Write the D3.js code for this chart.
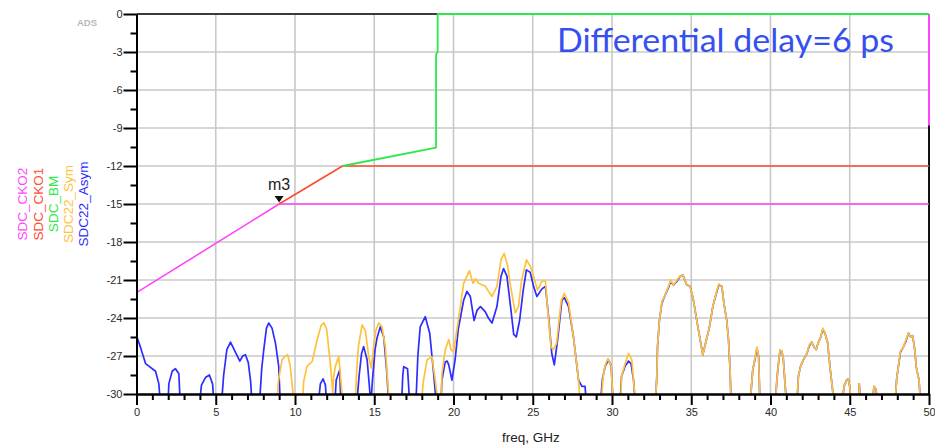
<!DOCTYPE html>
<html>
<head>
<meta charset="utf-8">
<script src="https://cdn.jsdelivr.net/npm/d3@7"></script>
<style>
  html, body { margin: 0; padding: 0; background: #fff; }
  svg { display: block; }
</style>
</head>
<body>
<svg id="chart" width="935" height="446"></svg>
<script>
// ---- axis ticks -----------------------------------------------------------
const freqTicks = [0, 5, 10, 15, 20, 25, 30, 35, 40, 45, 50];
const freqMinorTicks = [1,2,3,4,6,7,8,9,11,12,13,14,16,17,18,19,21,22,23,24,26,27,28,29,
                        31,32,33,34,36,37,38,39,41,42,43,44,46,47,48,49];
const dbTicks = [0, -3, -6, -9, -12, -15, -18, -21, -24, -27, -30];
const dbMinorTicks = [-1.5, -4.5, -7.5, -10.5, -13.5, -16.5, -19.5, -22.5, -25.5, -28.5];

// ---- legend (drawn as rotated text at the left) ----------------------------
const seriesNames  = ["SDC_CKO2", "SDC_CKO1", "SDC_BM", "SDC22_Sym", "SDC22_Asym"];
const seriesColors = ["#ff44ff", "#ff4a30", "#2ee84a", "#ffc23a", "#2d2dff"];

// ---- mask lines [freq GHz, dB] --------------------------------------------
const sdcCKO2 = [[0, -22], [9, -15], [50, -15]];
const sdcCKO2Edge = [[50, -8.8], [50, 0]];
const sdcCKO1 = [[9, -15], [13, -12], [50, -12]];
const sdcBM = [[13, -12], [18.9, -10.55], [18.9, -3.2], [19.0, -3.0], [19.0, 0], [50, 0]];

// ---- measured SDC22, symmetric routing [freq GHz, dB] ------------------------
const sdc22Sym = [
  [0,-31],[8.85,-31],[8.95,-29],[9.18,-27.3],[9.4,-27.0],[9.54,-26.9],[9.7,-27.8],[9.88,-30],[9.95,-31],
  [10.45,-31],[10.55,-29],[10.76,-27.8],[11.08,-27.45],[11.4,-25.7],[11.65,-24.6],[11.81,-24.37],[12.0,-24.9],
  [12.23,-27.6],[12.38,-29.9],[12.45,-28.5],[12.55,-27.8],[12.76,-27.05],[12.86,-28.4],[13.03,-31],
  [13.78,-31],[13.9,-28],[14.0,-26.26],[14.23,-24.55],[14.44,-25.0],[14.65,-27.05],[14.82,-27.97],[14.96,-26.26],
  [15.1,-25],[15.28,-24.4],[15.49,-24.7],[15.7,-26.3],[15.85,-29],[15.95,-31],
  [17.95,-31],[18.1,-29],[18.33,-27.3],[18.64,-27.05],[18.85,-28.9],[19.05,-31],
  [19.2,-31],[19.27,-28.4],[19.48,-26.5],[19.7,-25.7],[19.84,-26.5],[20.0,-26.7],[20.15,-25.5],[20.43,-23.1],
  [20.64,-21.26],[21.0,-20.26],[21.23,-21.26],[21.4,-20.9],[21.58,-21.26],[22.0,-21.5],[22.43,-22.3],[22.74,-21.5],
  [23.0,-19.4],[23.2,-18.9],[23.4,-19.8],[23.6,-21.5],[23.9,-23.6],[24.1,-23.1],[24.3,-21.0],[24.6,-19.4],
  [24.84,-19.9],[25.05,-20.7],[25.3,-21.8],[25.58,-21.1],[25.8,-21.1],[25.93,-23.1],[26.15,-26.26],[26.3,-26.5],
  [26.5,-26.0],[26.8,-22.6],[26.99,-22.05],[27.26,-22.8],[27.57,-25.5],[27.89,-28.9],[28.0,-31],
  [29.3,-31],[29.45,-28.5],[29.6,-27.6],[29.75,-27.2],[29.95,-27.8],[30.08,-31],
  [30.55,-31],[30.6,-28.6],[30.83,-27.6],[31.04,-26.8],[31.25,-27.3],[31.36,-28.9],[31.5,-31],
  [32.72,-31],[32.83,-28.6],[32.87,-26.26],[32.99,-24.2],[33.15,-22.7],[33.35,-22.2],[33.56,-21.5],[33.7,-21.0],
  [33.88,-21.4],[34.1,-21.0],[34.3,-20.7],[34.47,-20.6],[34.72,-21.4],[34.93,-21.5],[35.14,-22.6],[35.35,-24.2],
  [35.56,-25.7],[35.73,-26.9],[35.94,-25.8],[36.15,-24.7],[36.36,-23.1],[36.57,-22.05],[36.74,-21.3],[36.93,-21.5],
  [37.07,-22.9],[37.24,-24.2],[37.35,-25.7],[37.45,-28.1],[37.52,-31],
  [38.7,-31],[38.88,-28.1],[39.03,-27.1],[39.14,-26.3],[39.25,-27.0],[39.34,-31],
  [40.3,-31],[40.4,-28.9],[40.5,-27.6],[40.6,-26.5],[40.7,-26.6],[40.8,-27.1],[40.9,-28.9],[41.03,-31],
  [41.66,-31],[41.76,-28.6],[41.9,-27.8],[42.07,-27.3],[42.3,-26.8],[42.45,-26.1],[42.6,-25.9],[42.75,-26.3],
  [42.88,-26.5],[43.0,-26.0],[43.17,-25.5],[43.3,-24.8],[43.44,-25.2],[43.6,-25.9],[43.7,-27.2],[43.8,-28.4],
  [43.93,-29.8],[44.0,-31],
  [44.5,-31],[44.64,-29.4],[44.8,-28.9],[44.9,-28.8],[45.0,-29.4],[45.1,-31],
  [45.55,-31],[45.6,-29.2],[45.7,-31],
  [46.4,-31],[46.53,-29.4],[46.65,-29.6],[46.8,-31],
  [47.85,-31],[47.96,-28.8],[48.06,-27.9],[48.2,-26.6],[48.38,-26.3],[48.55,-25.7],[48.7,-25.2],[48.85,-25.5],
  [48.97,-25.4],[49.1,-26.5],[49.2,-27.9],[49.37,-28.9],[49.48,-31],[50,-31]
];

// ---- measured SDC22, asymmetric routing [freq GHz, dB] -----------------------
const sdc22Asym = [
  [0,-25.4],[0.25,-26.3],[0.57,-27.6],[0.78,-27.8],[1.2,-28.2],[1.41,-29.2],[1.52,-31],
  [1.98,-31],[2.04,-29.2],[2.25,-28.2],[2.46,-28.0],[2.67,-28.4],[2.77,-31],
  [3.95,-31],[4.1,-29.3],[4.35,-28.7],[4.6,-28.5],[4.8,-29.2],[4.9,-31],
  [5.35,-31],[5.5,-28.5],[5.7,-26.5],[5.93,-25.9],[6.2,-26.6],[6.52,-27.4],[6.7,-27.0],[6.87,-26.9],
  [7.05,-27.5],[7.2,-29],[7.3,-31],
  [7.75,-31],[7.9,-28],[8.03,-26.5],[8.2,-24.8],[8.34,-24.4],[8.55,-24.8],[8.77,-26.0],[8.97,-27.8],[9.08,-31],
  [11.45,-31],[11.6,-29.2],[11.77,-28.8],[11.92,-29.3],[12.0,-31],
  [12.5,-31],[12.6,-28.9],[12.82,-28.1],[12.9,-31],
  [13.88,-31],[14.05,-28.5],[14.2,-26.8],[14.33,-26.26],[14.55,-27.3],[14.72,-29.8],[14.78,-31],
  [14.88,-29],[15.05,-26.5],[15.17,-25.6],[15.38,-24.7],[15.6,-25.5],[15.8,-28.4],[15.92,-31],
  [16.72,-31],[16.8,-28.5],[16.86,-27.84],[17.1,-28],[17.25,-31],
  [17.62,-31],[17.75,-27],[17.9,-24.7],[18.22,-23.9],[18.5,-25.2],[18.75,-28.4],[18.93,-31],
  [19.2,-31],[19.27,-28.9],[19.48,-27.45],[19.6,-27.4],[19.7,-27.7],[19.9,-28.9],[20.1,-27.3],[20.3,-24.9],
  [20.64,-22.6],[20.85,-21.9],[21.06,-22.3],[21.3,-24.2],[21.48,-23.4],[21.7,-23.1],[22.0,-23.5],[22.2,-24.0],
  [22.43,-24.4],[22.74,-23.1],[23.0,-20.7],[23.16,-20.1],[23.37,-20.7],[23.6,-23.1],[23.8,-25.3],[23.96,-25.5],
  [24.17,-24.2],[24.4,-21.8],[24.6,-20.2],[24.84,-20.4],[25.05,-21.5],[25.26,-22.3],[25.58,-21.7],[25.8,-21.5],
  [26.0,-23.9],[26.2,-26.8],[26.36,-27.7],[26.57,-25.7],[26.84,-22.6],[26.99,-22.4],[27.26,-23.1],[27.57,-25.5],
  [27.89,-28.9],[28.1,-29.4],[28.3,-29.4],[28.4,-31],
  [29.25,-31],[29.4,-28.8],[29.57,-27.8],[29.78,-27.3],[29.95,-27.8],[30.08,-31],
  [30.5,-31],[30.6,-28.6],[30.83,-27.8],[30.94,-27.6],[31.04,-27.4],[31.2,-27.6],[31.36,-28.9],[31.48,-31],
  [32.72,-31],[32.83,-28.6],[32.87,-26.3],[32.99,-24.2],[33.15,-22.8],[33.35,-22.2],[33.56,-21.6],[33.7,-21.1],
  [33.88,-21.4],[34.1,-21.1],[34.3,-20.7],[34.47,-20.6],[34.72,-21.4],[34.93,-21.5],[35.14,-22.6],[35.35,-24.2],
  [35.56,-25.7],[35.73,-26.9],[35.94,-25.8],[36.15,-24.7],[36.36,-23.1],[36.57,-22.1],[36.74,-21.4],[36.93,-21.5],
  [37.07,-22.9],[37.24,-24.2],[37.35,-25.7],[37.45,-28.1],[37.52,-31],
  [38.7,-31],[38.88,-28.1],[39.03,-27.2],[39.14,-26.4],[39.25,-27.0],[39.34,-31],
  [40.3,-31],[40.4,-28.9],[40.5,-27.6],[40.6,-26.6],[40.7,-26.6],[40.8,-27.1],[40.9,-28.9],[41.03,-31],
  [41.66,-31],[41.76,-28.6],[41.9,-27.8],[42.07,-27.3],[42.3,-26.8],[42.45,-26.2],[42.6,-25.9],[42.75,-26.3],
  [42.88,-26.5],[43.0,-26.0],[43.17,-25.5],[43.3,-24.9],[43.44,-25.2],[43.6,-25.9],[43.7,-27.2],[43.8,-28.4],
  [43.93,-29.8],[44.0,-31],
  [44.5,-31],[44.64,-29.4],[44.8,-28.9],[44.9,-28.8],[45.0,-29.4],[45.1,-31],
  [45.55,-31],[45.6,-29.2],[45.7,-31],
  [46.4,-31],[46.53,-29.4],[46.65,-29.6],[46.8,-31],
  [47.85,-31],[47.96,-28.8],[48.06,-27.9],[48.2,-26.7],[48.38,-26.3],[48.55,-25.8],[48.7,-25.2],[48.85,-25.5],
  [48.97,-25.4],[49.1,-26.5],[49.2,-27.9],[49.37,-28.9],[49.48,-31],[50,-31]
];

// ---- marker ---------------------------------------------------------------
const markerName = "m3";
const markerPoint = [9, -15];
const annotation = "Differential delay=6 ps";

// ---- layout ---------------------------------------------------------------
const svg = d3.select("#chart");
const x = d3.scaleLinear().domain([0, 50]).range([136.5, 929]);
const y = d3.scaleLinear().domain([-30, 0]).range([394, 14]);
const AXIS_FONT = "'Liberation Sans', Arial, sans-serif";

// grid
const grid = svg.append("g").attr("stroke", "#c8c8c8").attr("stroke-width", 1.6);
grid.selectAll("line.v").data(freqTicks.slice(1, -1)).join("line")
  .attr("x1", d => x(d)).attr("x2", d => x(d)).attr("y1", y(0)).attr("y2", y(-30));
grid.selectAll("line.h").data(dbTicks.slice(1, -1)).join("line")
  .attr("x1", x(0)).attr("x2", x(50)).attr("y1", d => y(d)).attr("y2", d => y(d));

// outer frame (top + right)
svg.append("line").attr("x1", x(0)).attr("x2", x(50)).attr("y1", y(0)).attr("y2", y(0))
  .attr("stroke", "#3a3a3a").attr("stroke-width", 2);
svg.append("line").attr("x1", x(50)).attr("x2", x(50)).attr("y1", y(0)).attr("y2", y(-30))
  .attr("stroke", "#111").attr("stroke-width", 2);

// clip for traces
svg.append("defs").append("clipPath").attr("id", "plotClip").append("rect")
  .attr("x", x(0) - 2).attr("y", y(0) - 3)
  .attr("width", x(50) - x(0) + 5).attr("height", y(-30) - y(0) + 3.5);

const line = d3.line().x(d => x(d[0])).y(d => y(d[1]));
const traces = svg.append("g").attr("clip-path", "url(#plotClip)")
  .attr("fill", "none").attr("stroke-linejoin", "round");

traces.append("path").datum(sdc22Asym).attr("d", line)
  .attr("stroke", seriesColors[4]).attr("stroke-width", 1.7);
traces.append("path").datum(sdc22Sym).attr("d", line)
  .attr("stroke", seriesColors[3]).attr("stroke-width", 1.7);
traces.append("path").datum(sdcCKO2).attr("d", line)
  .attr("stroke", seriesColors[0]).attr("stroke-width", 1.6);
traces.append("path").datum(sdcCKO2Edge).attr("d", line)
  .attr("stroke", seriesColors[0]).attr("stroke-width", 2);
traces.append("path").datum(sdcCKO1).attr("d", line)
  .attr("stroke", seriesColors[1]).attr("stroke-width", 1.6);
traces.append("path").datum(sdcBM).attr("d", line)
  .attr("stroke", seriesColors[2]).attr("stroke-width", 1.8);

// axes
function styleAxis(g) {
  g.select(".domain").attr("stroke", "#000").attr("stroke-width", 2);
  g.selectAll(".tick line").attr("stroke", "#000").attr("stroke-width", 2);
  g.selectAll(".tick text").attr("fill", "#2a2a2a")
    .style("font-family", AXIS_FONT).style("font-size", "11px");
}
svg.append("g").attr("transform", `translate(${x(0)},0)`)
  .call(d3.axisLeft(y).tickValues(dbMinorTicks).tickSize(6).tickSizeOuter(0).tickFormat(""))
  .call(styleAxis);
svg.append("g").attr("transform", `translate(${x(0)},0)`)
  .call(d3.axisLeft(y).tickValues(dbTicks).tickSize(13).tickSizeOuter(0).tickPadding(1).tickFormat(d => d))
  .call(styleAxis);
svg.append("g").attr("transform", `translate(0,${y(-30)})`)
  .call(d3.axisBottom(x).tickValues(freqMinorTicks).tickSize(6).tickSizeOuter(0).tickFormat(""))
  .call(styleAxis);
svg.append("g").attr("transform", `translate(0,${y(-30)})`)
  .call(d3.axisBottom(x).tickValues(freqTicks).tickSize(11).tickSizeOuter(0).tickPadding(3).tickFormat(d => d))
  .call(styleAxis);

// x axis title
svg.append("text").attr("x", 531).attr("y", 442).attr("text-anchor", "middle")
  .style("font-family", AXIS_FONT).style("font-size", "13.5px").attr("fill", "#222")
  .text("freq, GHz");

// ADS tag
svg.append("text").attr("x", 87).attr("y", 25.5).attr("text-anchor", "middle")
  .style("font-family", AXIS_FONT).style("font-size", "9.5px").style("font-weight", "bold")
  .attr("fill", "#b8b8b8").text("ADS");

// rotated legend
const legendX = [27, 42.5, 58, 73, 88];
svg.append("g").selectAll("text").data(seriesNames).join("text")
  .attr("transform", (d, i) => `translate(${legendX[i]},${(y(0) + y(-30)) / 2}) rotate(-90)`)
  .attr("text-anchor", "middle")
  .style("font-family", AXIS_FONT).style("font-size", "13.5px")
  .attr("fill", (d, i) => seriesColors[i])
  .text(d => d);

// marker m3
const mx = x(markerPoint[0]), my = y(markerPoint[1]);
svg.append("path")
  .attr("d", `M${mx - 4.5},${my - 8} L${mx + 4.5},${my - 8} L${mx},${my - 1.5} Z`)
  .attr("fill", "#111");
svg.append("text").attr("x", mx).attr("y", my - 14).attr("text-anchor", "middle")
  .style("font-family", AXIS_FONT).style("font-size", "16px").attr("fill", "#222")
  .text(markerName);

// annotation
svg.append("text").attr("x", 557).attr("y", 51.5)
  .attr("textLength", 337).attr("lengthAdjust", "spacingAndGlyphs")
  .style("font-family", "Lato, 'Open Sans', sans-serif").style("font-size", "33.5px")
  .attr("fill", "#3550ee")
  .text(annotation);
</script>
</body>
</html>
